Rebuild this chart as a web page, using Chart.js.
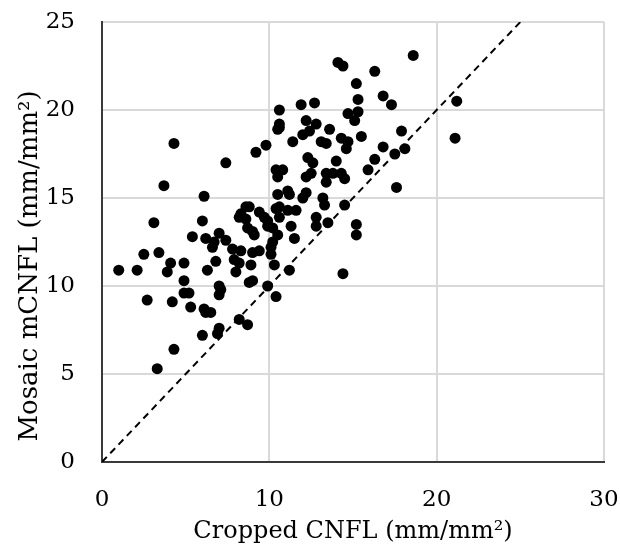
<!DOCTYPE html>
<html>
<head>
<meta charset="utf-8">
<script src="https://cdn.jsdelivr.net/npm/chart.js@4/dist/chart.umd.min.js"></script>
<style>
  html, body { margin: 0; padding: 0; background: #fff; }
  #wrap { width: 620px; height: 551px; position: relative; }
</style>
</head>
<body>
<div id="wrap"><canvas id="chart"></canvas></div>
<script>
// Cropped CNFL (x) vs Mosaic mCNFL (y)
const croppedCnfl = [
    1.0, 2.1, 2.5, 3.4, 2.7, 3.3, 4.3, 3.1, 3.7, 4.3,
    4.1, 3.9, 4.2, 4.9, 4.9, 4.9, 5.2, 5.3, 5.4, 6.0,
    6.1, 6.1, 6.2, 6.5, 6.0, 6.9, 7.0, 6.3, 6.8, 7.0,
    7.1, 7.0, 6.2, 6.6, 6.7, 7.0, 7.4, 7.4, 7.8, 8.3,
    7.9, 8.2, 8.0, 8.9, 9.0, 9.4, 9.1, 8.8, 9.0, 9.9,
    10.4, 8.2, 8.7, 10.2, 10.1, 10.1, 10.3, 10.5, 11.2, 11.5,
    11.3, 10.2, 8.7, 9.0, 8.2, 8.3, 8.6, 8.8, 8.6, 9.4,
    9.7, 9.9, 9.9, 10.4, 10.6, 10.6, 11.1, 11.6, 10.5, 11.1,
    11.2, 12.0, 12.2, 13.2, 13.3, 12.8, 13.5, 12.8, 14.5, 15.2,
    15.2, 14.4, 9.2, 9.8, 10.5, 11.4, 12.0, 12.4, 13.6, 13.1,
    13.4, 14.0, 12.3, 12.6, 10.4, 10.8, 10.5, 12.2, 12.5, 13.4,
    13.8, 13.4, 14.3, 14.5, 15.9, 16.3, 16.8, 17.5, 18.1, 17.9,
    17.6, 15.5, 14.3, 14.7, 14.6, 12.2, 12.8, 10.6, 10.6, 10.6,
    11.9, 12.7, 14.7, 15.3, 15.1, 15.3, 15.2, 16.8, 17.3, 16.3,
    14.1, 14.4, 18.6, 21.2, 21.1
];
const mosaicCnfl = [
    10.9, 10.9, 11.8, 11.9, 9.2, 5.3, 6.4, 13.6, 15.7, 18.1,
    11.3, 10.8, 9.1, 11.3, 10.3, 9.6, 9.6, 8.8, 12.8, 13.7,
    15.1, 8.7, 8.5, 8.5, 7.2, 7.3, 7.6, 10.9, 11.4, 10.0,
    9.8, 9.5, 12.7, 12.2, 12.5, 13.0, 12.6, 17.0, 12.1, 12.0,
    11.5, 11.3, 10.8, 11.2, 11.9, 12.0, 12.9, 10.2, 10.3, 10.0,
    9.4, 8.1, 7.8, 12.5, 12.2, 11.8, 11.2, 12.9, 10.9, 12.7,
    13.4, 13.3, 13.3, 13.1, 13.9, 14.1, 14.5, 14.5, 13.8, 14.2,
    13.9, 13.7, 13.4, 14.4, 14.5, 13.9, 14.3, 14.3, 15.2, 15.4,
    15.2, 15.0, 15.3, 15.0, 14.6, 13.9, 13.6, 13.4, 14.6, 13.5,
    12.9, 10.7, 17.6, 18.0, 18.9, 18.2, 18.6, 18.8, 18.9, 18.2,
    18.1, 17.1, 17.3, 17.0, 16.6, 16.6, 16.2, 16.2, 16.4, 16.4,
    16.4, 15.9, 16.4, 16.1, 16.6, 17.2, 17.9, 17.5, 17.8, 18.8,
    15.6, 18.5, 18.4, 18.2, 17.8, 19.4, 19.2, 19.2, 19.0, 20.0,
    20.3, 20.4, 19.8, 19.9, 19.4, 20.6, 21.5, 20.8, 20.3, 22.2,
    22.7, 22.5, 23.1, 20.5, 18.4
];
// identity line y = x
const identityX = [0, 25];
const xTicks = [0, 10, 20, 30];
const yTicks = [0, 5, 10, 15, 20, 25];

const X_TITLE = 'Cropped CNFL (mm/mm²)';
const Y_TITLE = 'Mosaic mCNFL (mm/mm²)';
const TEXT_COLOR = '#000';
const FONT = '"DejaVu Serif", serif';

const points = croppedCnfl.map((x, i) => ({ x, y: mosaicCnfl[i] }));
const identity = identityX.map(v => ({ x: v, y: v }));

// axis titles drawn by hand so they sit where the original has them
const axisTitles = {
    id: 'axisTitles',
    afterDraw(chart) {
        const { ctx, chartArea } = chart;
        ctx.save();
        ctx.fillStyle = TEXT_COLOR;
        ctx.textAlign = 'center';
        ctx.textBaseline = 'alphabetic';
        ctx.font = '24px ' + FONT;
        ctx.fillText(X_TITLE, (chartArea.left + chartArea.right) / 2, 538);
        ctx.translate(37, 266);
        ctx.rotate(-Math.PI / 2);
        ctx.font = '26px ' + FONT;
        ctx.fillText(Y_TITLE, 0, 0);
        ctx.restore();
    }
};

Chart.defaults.font.family = FONT;
Chart.defaults.color = TEXT_COLOR;

new Chart(document.getElementById('chart'), {
    type: 'scatter',
    data: {
        datasets: [
            {
                type: 'line',
                data: identity,
                borderColor: '#000',
                borderWidth: 2,
                borderDash: [7, 5],
                pointRadius: 0,
                fill: false,
                order: 2
            },
            {
                data: points,
                backgroundColor: '#000',
                borderColor: '#000',
                borderWidth: 0,
                pointRadius: 5.5,
                pointHoverRadius: 5.5,
                order: 1
            }
        ]
    },
    options: {
        responsive: true,
        maintainAspectRatio: false,
        animation: false,
        layout: { padding: { top: 22, right: 16, left: 0, bottom: 0 } },
        plugins: {
            legend: { display: false },
            tooltip: { enabled: false }
        },
        scales: {
            x: {
                type: 'linear',
                min: 0,
                max: 30,
                afterBuildTicks: scale => { scale.ticks = xTicks.map(v => ({ value: v })); },
                afterFit: scale => {
                    scale.height = 89;
                    scale.paddingLeft = 0;
                    scale.paddingRight = 0;
                },
                ticks: { padding: 24, font: { size: 23 }, color: TEXT_COLOR },
                grid: { color: '#d9d9d9', lineWidth: 2, drawTicks: false },
                border: { color: '#3a3a3a', width: 2 }
            },
            y: {
                type: 'linear',
                min: 0,
                max: 25,
                afterBuildTicks: scale => { scale.ticks = yTicks.map(v => ({ value: v })); },
                afterFit: scale => {
                    scale.width = 102;
                    scale.paddingTop = 0;
                    scale.paddingBottom = 0;
                },
                ticks: { padding: 27, font: { size: 23 }, color: TEXT_COLOR },
                grid: { color: '#d9d9d9', lineWidth: 2, drawTicks: false },
                border: { color: '#3a3a3a', width: 2 }
            }
        }
    },
    plugins: [axisTitles]
});
</script>
</body>
</html>
